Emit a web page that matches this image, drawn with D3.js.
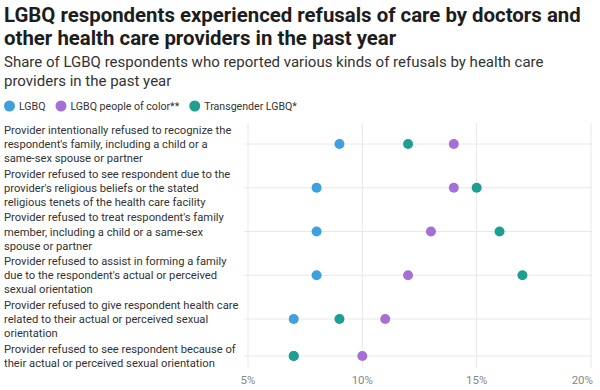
<!DOCTYPE html>
<html>
<head>
<meta charset="utf-8">
<script src="https://cdn.jsdelivr.net/npm/d3@7"></script>
<style>
body { margin: 0; background: #fff; font-family: Roboto, sans-serif; }
.title { font-weight: 700; font-size: 20.4px; fill: #1d1d1d; }
.sub { font-size: 15px; fill: #333; }
.leg { font-size: 10.6px; fill: #333; }
.lab { font-size: 11.2px; fill: #333; }
.tick { font-size: 11.5px; fill: #888; }
</style>
</head>
<body>
<div class="mainContainer"></div>
<script>
var categories = [
	["Provider intentionally refused to recognize the", "respondent's family, including a child or a", "same-sex spouse or partner"],
	["Provider refused to see respondent due to the", "provider's religious beliefs or the stated", "religious tenets of the health care facility"],
	["Provider refused to treat respondent's family", "member, including a child or a same-sex", "spouse or partner"],
	["Provider refused to assist in forming a family", "due to the respondent's actual or perceived", "sexual orientation"],
	["Provider refused to give respondent health care", "related to their actual or perceived sexual", "orientation"],
	["Provider refused to see respondent because of", "their actual or perceived sexual orientation"]
];
var seriesNames = ["LGBQ", "LGBQ people of color**", "Transgender LGBQ*"];
var lgbq = [9, 8, 8, 8, 7, 7];
var poc = [14, 14, 13, 12, 11, 10];
var trans = [12, 15, 16, 17, 9, 7];
var ticks = [5, 10, 15, 20];
var colors = ["#3ea0dd", "#a66fd6", "#1f9e92"];

var W = 600, H = 390;
var svg = d3.select('.mainContainer').append('svg').attr('width', W).attr('height', H);

// titles
var title = ["LGBQ respondents experienced refusals of care by doctors and", "other health care providers in the past year"];
title.forEach(function(t, i){
	svg.append('text').attr('class', 'title').attr('x', 4).attr('y', 22 + i*23).text(t);
});
var sub = ["Share of LGBQ respondents who reported various kinds of refusals by health care", "providers in the past year"];
sub.forEach(function(t, i){
	svg.append('text').attr('class', 'sub').attr('x', 4).attr('y', 67 + i*19).text(t);
});

// legend
var lx = 4;
seriesNames.forEach(function(n, i){
	var g = svg.append('g').attr('transform', 'translate(' + lx + ',106)');
	g.append('circle').attr('cx', 5.5).attr('cy', 0).attr('r', 5.5).style('fill', colors[i]);
	var t = g.append('text').attr('class', 'leg').attr('x', 15).attr('y', 3.8).text(n);
	lx += 15 + t.node().getComputedTextLength() + 10;
});

// rows: height depends on number of label lines
var lineH = 14.2;
var rowH = categories.map(function(c){ return c.length * 13.5 + 3.25; });
var centers = [], cy = 144;
rowH.forEach(function(h, i){
	if (i > 0) cy += (rowH[i-1] + h) / 2;
	centers.push(cy);
});

var x = d3.scaleLinear().domain([5, 20]).range([248, 591]);

// vertical grid
svg.selectAll('.vg').data(ticks).enter().append('line')
	.attr('x1', function(d){ return x(d); }).attr('x2', function(d){ return x(d); })
	.attr('y1', 123).attr('y2', 368)
	.style('stroke', '#e8e8e8').style('stroke-width', 1);
svg.selectAll('.tl').data(ticks).enter().append('text').attr('class', 'tick')
	.attr('x', function(d, i){ return i == ticks.length - 1 ? x(d) + 2 : x(d); }).attr('y', 384)
	.attr('text-anchor', function(d, i){ return i == ticks.length - 1 ? 'end' : 'middle'; })
	.text(function(d){ return d + '%'; });

// rows
categories.forEach(function(c, i){
	var yc = centers[i];
	svg.append('line').attr('x1', 244).attr('x2', 592).attr('y1', yc).attr('y2', yc)
		.style('stroke', '#e8e8e8').style('stroke-width', 1);
	var y0 = yc - (c.length - 1) * lineH / 2 + 4;
	c.forEach(function(l, j){
		svg.append('text').attr('class', 'lab').attr('x', 4).attr('y', y0 + j*lineH).text(l);
	});
});

var series = [lgbq, poc, trans];
series.forEach(function(s, k){
	svg.selectAll('.d' + k).data(s).enter().append('circle')
		.attr('cx', function(d){ return x(d); })
		.attr('cy', function(d, i){ return centers[i]; })
		.attr('r', 5)
		.style('fill', colors[k]);
});
</script>
</body>
</html>
